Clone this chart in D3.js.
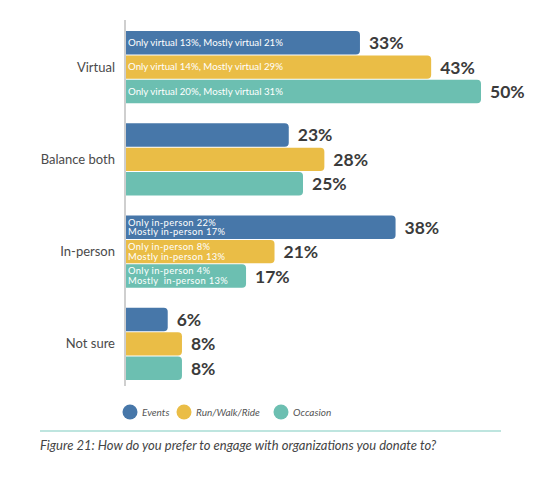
<!DOCTYPE html>
<html><head><meta charset="utf-8">
<script src="https://cdn.jsdelivr.net/npm/d3@7"></script>
<style>body{margin:0;background:#fff}svg{display:block}</style>
</head><body>
<svg id="c" width="546" height="477"></svg>
<script>
const categories = ["Virtual", "Balance both", "In-person", "Not sure"];
const seriesNames = ["Events", "Run/Walk/Ride", "Occasion"];
const events = [33, 23, 38, 6];
const runWalkRide = [43, 28, 21, 8];
const occasion = [50, 25, 17, 8];
const eventsNotes = [["Only virtual 13%, Mostly virtual 21%"], [], ["Only in-person 22%", "Mostly in-person 17%"], []];
const runNotes = [["Only virtual 14%, Mostly virtual 29%"], [], ["Only in-person 8%", "Mostly in-person 13%"], []];
const occasionNotes = [["Only virtual 20%, Mostly virtual 31%"], [], ["Only in-person 4%", "Mostly  in-person 13%"], []];
const colors = ["#4777a9", "#eabd46", "#6cbfb1"];
const caption = "Figure 21: How do you prefer to engage with organizations you donate to?";

const values = [events, runWalkRide, occasion];
const notes = [eventsNotes, runNotes, occasionNotes];
const svg = d3.select("#c");
const font = "Lato, 'Open Sans', sans-serif";

const x = d3.scaleLinear().domain([0, 50]).range([125, 481]);
const y0 = d3.scaleBand().domain(categories).range([31, 380]).paddingInner(0.217).paddingOuter(0);
const y1 = d3.scaleBand().domain(seriesNames).range([0, y0.bandwidth()]).paddingInner(0.04);

const rows = [];
categories.forEach((c, ci) => seriesNames.forEach((s, si) => rows.push({c, ci, s, si, v: values[si][ci], n: notes[si][ci]})));

function barPath(x0, y, w, h, r) {
  return `M${x0},${y}H${x0 + w - r}Q${x0 + w},${y} ${x0 + w},${y + r}V${y + h - r}Q${x0 + w},${y + h} ${x0 + w - r},${y + h}H${x0}Z`;
}

const g = svg.append("g");
g.selectAll("path.bar").data(rows).join("path")
  .attr("class", "bar")
  .attr("fill", d => colors[d.si])
  .attr("d", d => barPath(x(0), y0(d.c) + y1(d.s), x(d.v) - x(0), y1.bandwidth(), 4));

// axis line
svg.append("line").attr("x1", 125).attr("x2", 125).attr("y1", 20).attr("y2", 386)
  .attr("stroke", "#cfcfcf").attr("stroke-width", 2);

// value labels
g.selectAll("text.val").data(rows).join("text")
  .attr("class", "val")
  .attr("x", d => x(d.v) + 9)
  .attr("y", d => y0(d.c) + y1(d.s) + y1.bandwidth() / 2 + 6.5)
  .attr("font-family", font).attr("font-weight", 700).attr("font-size", 17.5)
  .attr("fill", "#3b3b3b")
  .text(d => d.v + "%");

// inner notes
rows.forEach(d => {
  if (!d.n.length) return;
  const cy = y0(d.c) + y1(d.s) + y1.bandwidth() / 2;
  const two = d.n.length > 1;
  const lh = 9.8;
  const t = g.append("text").attr("font-family", font).attr("font-size", two ? 9.4 : 9.7)
    .attr("letter-spacing", two ? 0.35 : 0).attr("fill", "#fff")
    .attr("xml:space", "preserve");
  d.n.forEach((line, i) => {
    t.append("tspan").attr("x", 128)
      .attr("y", cy + 3.3 + (i - (d.n.length - 1) / 2) * lh)
      .text(line);
  });
});

// category labels
svg.selectAll("text.cat").data(categories).join("text")
  .attr("class", "cat")
  .attr("x", 115).attr("y", d => y0(d) + y0.bandwidth() / 2 + 4.5)
  .attr("text-anchor", "end")
  .attr("font-family", font).attr("font-size", 13).attr("fill", "#4a4a4a")
  .text(d => d);

// legend
const legX = [130, 184, 281];
const leg = svg.selectAll("g.leg").data(seriesNames).join("g").attr("class", "leg")
  .attr("transform", (d, i) => `translate(${legX[i]},412)`);
leg.append("circle").attr("r", 7.5).attr("fill", (d, i) => colors[i]);
leg.append("text").attr("x", 12).attr("y", 3.5)
  .attr("font-family", font).attr("font-style", "italic").attr("font-size", 10).attr("fill", "#555")
  .text(d => d);

// divider and caption
svg.append("line").attr("x1", 40).attr("x2", 501).attr("y1", 431).attr("y2", 431)
  .attr("stroke", "#a9dcd4").attr("stroke-width", 1.5);
svg.append("text").attr("x", 40).attr("y", 450)
  .attr("font-family", font).attr("font-style", "italic").attr("font-size", 13).attr("fill", "#444")
  .text(caption);
</script>
</body></html>
